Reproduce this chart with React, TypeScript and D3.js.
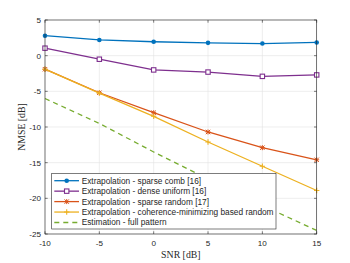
import * as d3 from "d3";

const snr = [-10, -5, 0, 5, 10, 15];
const sparseComb = [2.8, 2.2, 1.95, 1.8, 1.7, 1.85];
const denseUniform = [1.05, -0.5, -2.0, -2.3, -2.9, -2.7];
const sparseRandom = [-1.9, -5.2, -8.0, -10.7, -12.9, -14.6];
const coherenceMin = [-1.9, -5.25, -8.5, -12.1, -15.5, -18.9];
const fullPattern = [-6.0, -9.5, -13.5, -17.3, -21.0, -24.5];

const xTicks = [-10, -5, 0, 5, 10, 15];
const yTicks = [5, 0, -5, -10, -15, -20, -25];

const series = [
  { name: "Extrapolation - sparse comb [16]", values: sparseComb, color: "#0072BD", marker: "dot", dash: "" },
  { name: "Extrapolation - dense uniform [16]", values: denseUniform, color: "#7E2F8E", marker: "square", dash: "" },
  { name: "Extrapolation - sparse random [17]", values: sparseRandom, color: "#D95319", marker: "star", dash: "" },
  { name: "Extrapolation - coherence-minimizing based random", values: coherenceMin, color: "#EDB120", marker: "plus", dash: "" },
  { name: "Estimation - full pattern", values: fullPattern, color: "#77AC30", marker: "none", dash: "5,4" },
];

const margin = { left: 45, right: 33.3, top: 20, bottom: 29 };
const W = 350;
const H = 263;

function Marker({ type, x, y, color }: { type: string; x: number; y: number; color: string }) {
  if (type === "dot") return <circle cx={x} cy={y} r={2.3} fill={color} />;
  if (type === "square")
    return <rect x={x - 2.2} y={y - 2.2} width={4.4} height={4.4} fill="white" stroke={color} strokeWidth={1.1} />;
  if (type === "star")
    return (
      <path
        d={`M${x - 2.2},${y - 2.2}L${x + 2.2},${y + 2.2}M${x - 2.2},${y + 2.2}L${x + 2.2},${y - 2.2}M${x - 2.5},${y}L${x + 2.5},${y}M${x},${y - 2.5}L${x},${y + 2.5}`}
        stroke={color}
        strokeWidth={1}
      />
    );
  if (type === "plus")
    return <path d={`M${x - 2.7},${y}L${x + 2.7},${y}M${x},${y - 2.7}L${x},${y + 2.7}`} stroke={color} strokeWidth={1.1} />;
  return null;
}

export default function App() {
  const x = d3.scaleLinear().domain([-10, 15]).range([margin.left, W - margin.right]);
  const y = d3.scaleLinear().domain([-25, 5]).range([H - margin.bottom, margin.top]);
  const line = d3
    .line<number>()
    .x((_, i) => x(snr[i]))
    .y((d) => y(d));

  const axisColor = "#262626";
  const tickFont = { fontFamily: "Liberation Sans, Arial, sans-serif", fontSize: 8.1, fill: "#262626" };
  const legendFont = { fontFamily: "Liberation Sans, Arial, sans-serif", fontSize: 8.3, fill: "#262626" };

  const lx0 = 51.7;
  const ly0 = 173.3;
  const lw = 224.3;
  const lh = 55.7;

  return (
    <svg width={W} height={H} style={{ position: "absolute", left: 0, top: 0, background: "white" }}>
      <rect x={0} y={0} width={W} height={H} fill="white" />
      {/* grid */}
      {xTicks.map((t) => (
        <line key={"gx" + t} x1={x(t)} x2={x(t)} y1={y(-25)} y2={y(5)} stroke="#e3e3e3" strokeWidth={0.6} />
      ))}
      {yTicks.map((t) => (
        <line key={"gy" + t} x1={x(-10)} x2={x(15)} y1={y(t)} y2={y(t)} stroke="#e3e3e3" strokeWidth={0.6} />
      ))}
      {/* series */}
      {series.map((s) => (
        <g key={s.name}>
          <path d={line(s.values) || ""} fill="none" stroke={s.color} strokeWidth={1.3} strokeDasharray={s.dash} />
          {s.values.map((v, i) => (
            <Marker key={i} type={s.marker} x={x(snr[i])} y={y(v)} color={s.color} />
          ))}
        </g>
      ))}
      {/* box + ticks */}
      <rect x={x(-10)} y={y(5)} width={x(15) - x(-10)} height={y(-25) - y(5)} fill="none" stroke={axisColor} strokeWidth={0.6} />
      {xTicks.map((t) => (
        <g key={"tx" + t}>
          <line x1={x(t)} x2={x(t)} y1={y(-25)} y2={y(-25) - 2.7} stroke={axisColor} strokeWidth={0.6} />
          <line x1={x(t)} x2={x(t)} y1={y(5)} y2={y(5) + 2.7} stroke={axisColor} strokeWidth={0.6} />
          <text x={x(t)} y={y(-25) + 12} textAnchor="middle" {...tickFont}>
            {t}
          </text>
        </g>
      ))}
      {yTicks.map((t) => (
        <g key={"ty" + t}>
          <line x1={x(-10)} x2={x(-10) + 2.7} y1={y(t)} y2={y(t)} stroke={axisColor} strokeWidth={0.6} />
          <line x1={x(15)} x2={x(15) - 2.7} y1={y(t)} y2={y(t)} stroke={axisColor} strokeWidth={0.6} />
          <text x={x(-10) - 4} y={y(t) + 2.9} textAnchor="end" {...tickFont}>
            {t}
          </text>
        </g>
      ))}
      {/* axis labels */}
      <text
        x={x(2.5)}
        y={257.5}
        textAnchor="middle"
        fontFamily="Liberation Serif, Times New Roman, serif"
        fontSize={9.8}
        fill="#262626"
      >
        SNR [dB]
      </text>
      <text
        transform={`translate(25,${(y(5) + y(-25)) / 2}) rotate(-90)`}
        textAnchor="middle"
        fontFamily="Liberation Serif, Times New Roman, serif"
        fontSize={9.8}
        fill="#262626"
      >
        NMSE [dB]
      </text>
      {/* legend */}
      <rect x={lx0} y={ly0} width={lw} height={lh} fill="white" stroke={axisColor} strokeWidth={0.6} />
      {series.map((s, i) => {
        const cy = ly0 + 7.4 + i * 10.45;
        return (
          <g key={"lg" + i}>
            <line x1={lx0 + 2.6} x2={lx0 + 27.3} y1={cy} y2={cy} stroke={s.color} strokeWidth={1.3} strokeDasharray={s.dash} />
            <Marker type={s.marker} x={lx0 + 15} y={cy} color={s.color} />
            <text x={lx0 + 30} y={cy + 2.9} {...legendFont}>
              {s.name}
            </text>
          </g>
        );
      })}
    </svg>
  );
}
